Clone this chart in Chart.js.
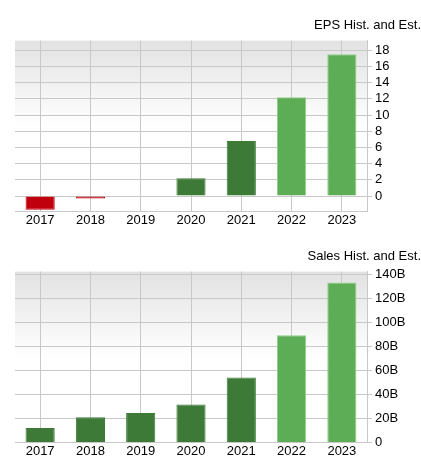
<!DOCTYPE html>
<html><head><meta charset="utf-8">
<script src="https://cdn.jsdelivr.net/npm/chart.js@4"></script>
<style>
body{margin:0;background:#fff;width:421px;height:462px;overflow:hidden}
.box{position:relative;width:421px;height:231px}
</style></head>
<body>
<div class="box"><canvas id="eps"></canvas></div>
<div class="box"><canvas id="sales"></canvas></div>
<script>
// data
const years = ['2017','2018','2019','2020','2021','2022','2023'];
const epsValues = [-1.7, -0.3, 0.05, 2.2, 6.8, 12.2, 17.5];
const salesValues = [12, 21, 24.5, 31.5, 54, 89, 133]; // billions
const epsTicks = [0,2,4,6,8,10,12,14,16,18];
const salesTicks = [0,20,40,60,80,100,120,140];

const RED = '#c0000c', DARK = '#3d7a37', LIGHT = '#5cad56';
const histEst = [false,false,false,false,false,true,true];

function barColor(v, i) {
  if (v < 0) return RED;
  return histEst[i] ? LIGHT : DARK;
}

// grey-to-white background in the plot area
const bgPlugin = {
  id: 'bg',
  beforeDraw(chart) {
    const {ctx, chartArea: a} = chart;
    const g = ctx.createLinearGradient(0, a.top, 0, a.bottom);
    g.addColorStop(0, '#e2e2e2');
    g.addColorStop(0.5, '#ffffff');
    g.addColorStop(1, '#ffffff');
    ctx.save();
    ctx.fillStyle = g;
    ctx.fillRect(a.left, a.top, a.right - a.left, a.bottom - a.top);
    ctx.restore();
  }
};

Chart.defaults.font.family = '"Liberation Sans", Arial, sans-serif';
Chart.defaults.font.size = 13;
Chart.defaults.color = '#000';

function makeChart(id, title, values, ticks, min, max, fmt) {
  new Chart(document.getElementById(id), {
    type: 'bar',
    data: {
      labels: years,
      datasets: [{
        data: values,
        backgroundColor: values.map(barColor),
        borderColor: values.map((v, i) => histEst[i] && v >= 0 ? '#8fcf89' : barColor(v, i)),
        borderWidth: 1,
        categoryPercentage: 1,
        barPercentage: 0.58
      }]
    },
    options: {
      responsive: false,
      animation: false,
      layout: {padding: {left: 15, right: 0, top: 0, bottom: 2}},
      plugins: {
        legend: {display: false},
        tooltip: {enabled: false},
        title: {display: true, text: title, align: 'end', color: '#000',
                font: {size: 13, weight: 'normal'}, padding: {top: 18, bottom: 7}}
      },
      scales: {
        x: {
          offset: true,
          grid: {offset: false, color: '#c8c8c8', drawTicks: false},
          border: {color: '#c8c8c8'},
          ticks: {padding: 1, maxRotation: 0}
        },
        y: {
          position: 'right',
          min: min, max: max,
          afterBuildTicks: s => { s.ticks = ticks.map(v => ({value: v})); },
          afterFit: s => { s.width = 54; },
          grid: {color: '#c8c8c8', drawTicks: true, tickLength: 5},
          border: {color: '#c8c8c8'},
          ticks: {padding: 3, callback: fmt}
        }
      }
    },
    plugins: [bgPlugin]
  });
}

function sizeCanvas(id) {
  const c = document.getElementById(id);
  c.width = 421; c.height = 231;
}
sizeCanvas('eps'); sizeCanvas('sales');

makeChart('eps', 'EPS Hist. and Est.', epsValues, epsTicks, -1.9, 19.2, v => v);
makeChart('sales', 'Sales Hist. and Est.', salesValues, salesTicks, 0, 142,
          v => v === 0 ? '0' : v + 'B');
</script>
</body></html>
